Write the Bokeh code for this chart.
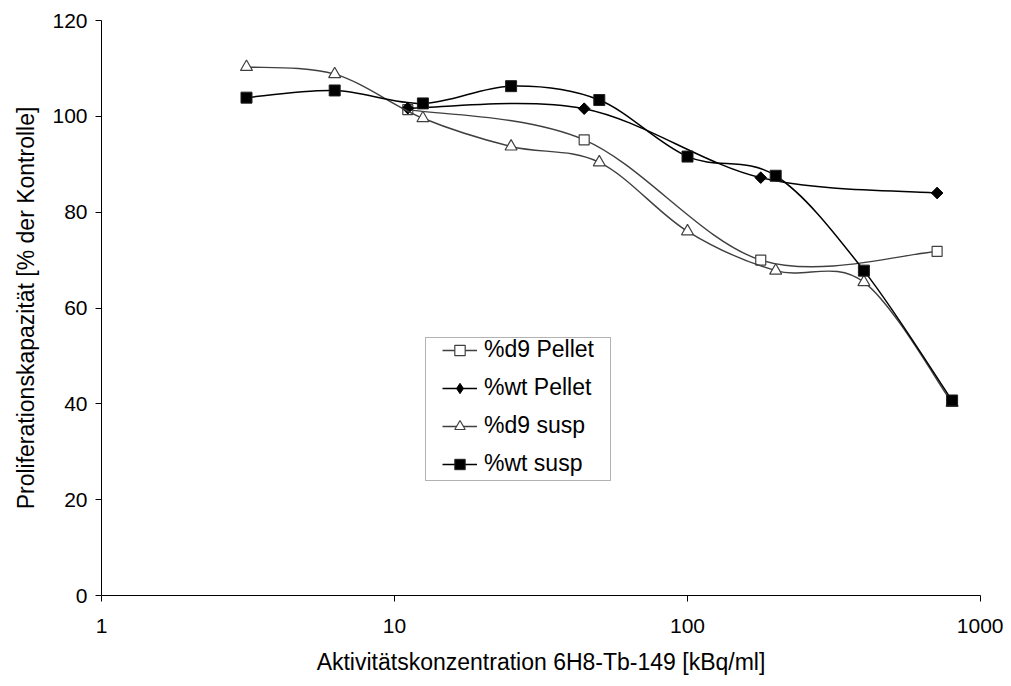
import numpy as np
from bokeh.plotting import figure
from bokeh.models import (FixedTicker, Legend, LegendItem, BoxAnnotation,
                          PrintfTickFormatter, Range1d, ColumnDataSource)
from bokeh.embed import file_html
from bokeh.resources import INLINE

# ---------------- data ----------------
pellet_x = [11.1, 44.4, 177.8, 711.0]
d9_pellet = [101.4, 95.1, 70.0, 71.8]
wt_pellet = [101.7, 101.6, 87.2, 84.0]

susp_x = [3.125, 6.25, 12.5, 25.0, 50.0, 100.0, 200.0, 400.0, 800.0]
d9_susp = [110.3, 108.8, 99.6, 93.7, 90.4, 76.0, 67.8, 65.4, 40.2]
wt_susp = [103.9, 105.4, 102.7, 106.3, 103.4, 91.6, 87.6, 67.8, 40.7]

series_names = ["%d9 Pellet", "%wt Pellet", "%d9 susp", "%wt susp"]
x_ticks = [1, 10, 100, 1000]
y_ticks = [0, 20, 40, 60, 80, 100, 120]

x_label = "Aktivitätskonzentration 6H8-Tb-149 [kBq/ml]"
y_label = "Proliferationskapazität [% der Kontrolle]"

FONT = "Liberation Sans"


def smooth_segments(xs, ys):
    """Bezier segments (Excel-like smoothed line) built in log-x screen space."""
    u = np.log10(np.asarray(xs, dtype=float))
    y = np.asarray(ys, dtype=float)
    n = len(u)
    d = {k: [] for k in ("x0", "y0", "x1", "y1", "cx0", "cy0", "cx1", "cy1")}
    for i in range(n - 1):
        im = max(i - 1, 0)
        ip = min(i + 2, n - 1)
        c0u = u[i] + (u[i + 1] - u[im]) / 6.0
        c0y = y[i] + (y[i + 1] - y[im]) / 6.0
        c1u = u[i + 1] - (u[ip] - u[i]) / 6.0
        c1y = y[i + 1] - (y[ip] - y[i]) / 6.0
        d["x0"].append(10 ** u[i]); d["y0"].append(y[i])
        d["x1"].append(10 ** u[i + 1]); d["y1"].append(y[i + 1])
        d["cx0"].append(10 ** c0u); d["cy0"].append(c0y)
        d["cx1"].append(10 ** c1u); d["cy1"].append(c1y)
    return ColumnDataSource(d)


p = figure(width=1003, height=684, x_axis_type="log",
           x_range=Range1d(1, 1000), y_range=Range1d(0, 120),
           output_backend="svg", toolbar_location=None,
           min_border_left=101, min_border_right=23,
           min_border_top=20, min_border_bottom=89)
p.outline_line_color = None
p.grid.visible = False
p.background_fill_color = "white"
p.border_fill_color = "white"

# axes
p.xaxis.ticker = FixedTicker(ticks=x_ticks, minor_ticks=[])
p.xaxis.formatter = PrintfTickFormatter(format="%d")
p.yaxis.ticker = FixedTicker(ticks=y_ticks, minor_ticks=[])
for ax in (p.xaxis[0], p.yaxis[0]):
    ax.axis_line_color = "black"
    ax.axis_line_width = 1
    ax.major_tick_line_color = "black"
    ax.major_tick_in = 0
    ax.major_tick_out = 6
    ax.minor_tick_line_color = None
    ax.major_label_text_font = FONT
    ax.major_label_text_font_size = "21px"
    ax.major_label_text_color = "black"
    ax.axis_label_text_font = FONT
    ax.axis_label_text_font_size = "23px"
    ax.axis_label_text_font_style = "normal"
    ax.axis_label_text_color = "black"
p.xaxis.axis_label = x_label
p.yaxis.axis_label = y_label
p.xaxis.major_label_standoff = 17
p.xaxis.axis_label_standoff = 13
p.yaxis.major_label_standoff = 8
p.yaxis.axis_label_standoff = 10

items = []

# %d9 Pellet
l1 = p.bezier(x0="x0", y0="y0", x1="x1", y1="y1", cx0="cx0", cy0="cy0",
              cx1="cx1", cy1="cy1", source=smooth_segments(pellet_x, d9_pellet),
              line_color="#404040", line_width=1.4)
m1 = p.scatter(pellet_x, d9_pellet, marker="square", size=10,
               fill_color="white", line_color="#404040", line_width=1.2)
items.append(LegendItem(label=series_names[0], renderers=[l1, m1]))

# %wt Pellet
l2 = p.bezier(x0="x0", y0="y0", x1="x1", y1="y1", cx0="cx0", cy0="cy0",
              cx1="cx1", cy1="cy1", source=smooth_segments(pellet_x, wt_pellet),
              line_color="black", line_width=1.5)
# diamond glyph (used for the legend; legend glyphs are never rotated),
# covered on the plot by the rotated squares drawn on top of it
m2_leg = p.scatter(pellet_x, wt_pellet, marker="diamond", size=10.5,
                   fill_color="black", line_color="black", line_width=1)
m2 = p.scatter(pellet_x, wt_pellet, marker="square", size=8.2, angle=np.pi / 4,
               fill_color="black", line_color="black", line_width=1)
items.append(LegendItem(label=series_names[1], renderers=[l2, m2_leg]))

# %d9 susp
l3 = p.bezier(x0="x0", y0="y0", x1="x1", y1="y1", cx0="cx0", cy0="cy0",
              cx1="cx1", cy1="cy1", source=smooth_segments(susp_x, d9_susp),
              line_color="#404040", line_width=1.4)
m3 = p.scatter(susp_x, d9_susp, marker="triangle", size=12,
               fill_color="white", line_color="#404040", line_width=1.2)
items.append(LegendItem(label=series_names[2], renderers=[l3, m3]))

# %wt susp
l4 = p.bezier(x0="x0", y0="y0", x1="x1", y1="y1", cx0="cx0", cy0="cy0",
              cx1="cx1", cy1="cy1", source=smooth_segments(susp_x, wt_susp),
              line_color="black", line_width=1.5)
m4 = p.scatter(susp_x, wt_susp, marker="square", size=11,
               fill_color="black", line_color="#202020", line_width=1)
items.append(LegendItem(label=series_names[3], renderers=[l4, m4]))

# legend frame
box = BoxAnnotation(left=324, right=509, bottom=115, top=258,
                    left_units="screen", right_units="screen",
                    top_units="screen", bottom_units="screen",
                    fill_color=None, line_color="black", line_width=1)
p.add_layout(box)

legend = Legend(items=items, location=(341, 118), padding=0, spacing=11, margin=0,
                glyph_width=35, glyph_height=26, label_height=26, label_standoff=7,
                label_text_font=FONT, label_text_font_size="23px",
                label_text_color="black",
                border_line_color=None, background_fill_alpha=0)
p.add_layout(legend)

open("out.html", "w").write(file_html(p, INLINE))
